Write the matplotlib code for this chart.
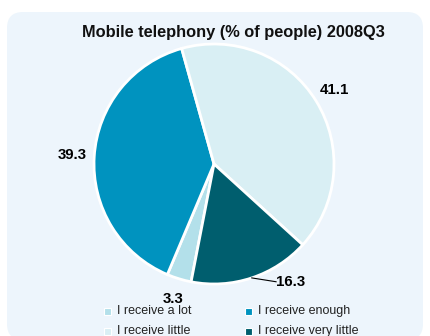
import numpy as np
import matplotlib.pyplot as plt
from matplotlib.patches import FancyBboxPatch, Rectangle
from matplotlib.transforms import IdentityTransform

plt.rcParams['font.family'] = ['Liberation Sans', 'DejaVu Sans']

# share of people by how much mobile telephony they get, 2008Q3
categories = ["I receive a lot", "I receive enough", "I receive little", "I receive very little"]
shares = [3.3, 39.3, 41.1, 16.3]
colors = ["#b3e0ea", "#0093bf", "#d9eff4", "#005e6e"]
title = "Mobile telephony (% of people) 2008Q3"

W, H = 430, 336
fig = plt.figure(figsize=(W / 100, H / 100), dpi=100)

# rounded panel behind the chart (pixel coordinates)
panel = FancyBboxPatch((7, -4), 416, 336 - 12 + 4,
                       boxstyle="round,pad=0,rounding_size=16",
                       transform=IdentityTransform(),
                       facecolor="#edf5fc", edgecolor="none", zorder=0)
fig.add_artist(panel)

fig.text(233 / W, 1 - 33 / H, title, ha="center", va="center",
         fontsize=11.8, fontweight="bold", color="#111111")

# pie centred at (214, 164) px, radius 120 px
ax = fig.add_axes([94 / W, (H - 284) / H, 240 / W, 240 / H])
wedges, _ = ax.pie(shares, colors=colors, startangle=-101, counterclock=False,
                   radius=1, wedgeprops=dict(edgecolor="white", linewidth=2))
ax.set_xlim(-1, 1)
ax.set_ylim(-1, 1)
ax.set_aspect("equal")
ax.axis("off")

for w, val in zip(wedges, shares):
    mid = np.deg2rad((w.theta1 + w.theta2) / 2)
    edge = (np.cos(mid), np.sin(mid))
    if val == 16.3:
        # small slice label pushed out with a leader line
        tang = np.deg2rad(-57)
        txt = (1.17 * np.cos(tang), 1.17 * np.sin(tang))
        ax.plot([edge[0], txt[0] - 0.12], [edge[1], txt[1]], color="black",
                lw=0.8, clip_on=False)
        ax.text(txt[0], txt[1], f"{val}", ha="center", va="center",
                fontsize=10.8, fontweight="bold", clip_on=False)
    else:
        r = 1.18
        ax.text(r * edge[0], r * edge[1], f"{val}", ha="center", va="center",
                fontsize=10.8, fontweight="bold", clip_on=False)

# legend: two columns, row 1 = a lot / enough, row 2 = little / very little
col_x = [104, 245]
row_y = [311, 331]
for i, (lab, c) in enumerate(zip(categories, colors)):
    x = col_x[i % 2]
    y = row_y[i // 2]
    fig.add_artist(Rectangle((x, H - y - 3.5), 7, 7, transform=IdentityTransform(),
                             facecolor=c, edgecolor="white", linewidth=0.8))
    fig.text((x + 13) / W, 1 - y / H, lab, ha="left", va="center",
             fontsize=9, color="#222222")

fig.savefig("out.png", dpi=100, facecolor="white")
